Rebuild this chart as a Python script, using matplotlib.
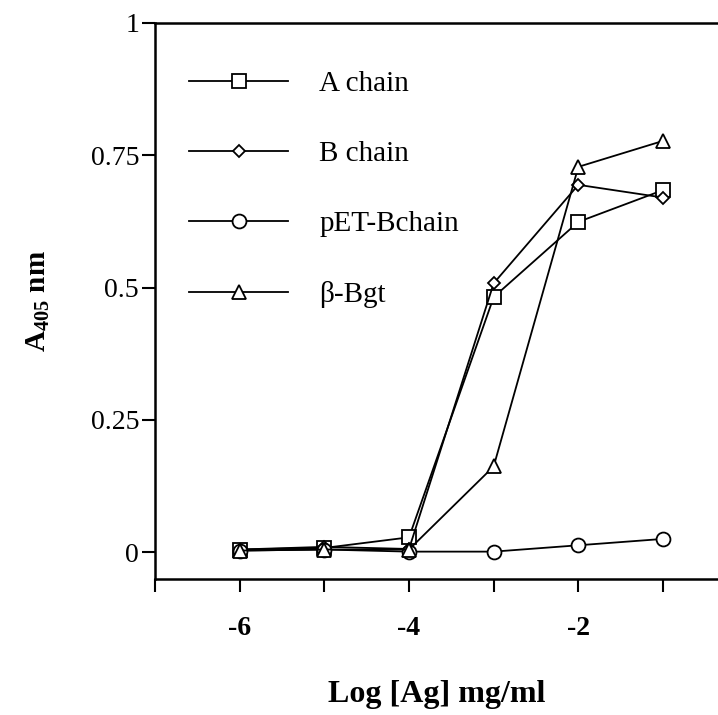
import matplotlib.pyplot as plt

# log concentration of antigen (mg/ml)
log_ag = [-6, -5, -4, -3, -2, -1]

# absorbance at 405 nm for each antigen
a_chain = [0.005, 0.008, 0.028, 0.482, 0.624, 0.684]
b_chain = [0.005, 0.010, 0.006, 0.508, 0.694, 0.670]
pet_bchain = [0.003, 0.005, 0.001, 0.001, 0.013, 0.025]
beta_bgt = [0.003, 0.005, 0.005, 0.162, 0.728, 0.777]

labels = ['A chain', 'B chain', 'pET-Bchain', 'β-Bgt']
markers = ['s', 'D', 'o', '^']
sizes = [10, 6, 10, 10]

plt.rcParams['font.family'] = ['Liberation Serif', 'DejaVu Serif']
plt.rcParams['mathtext.fontset'] = 'custom'
plt.rcParams['mathtext.bf'] = 'Liberation Serif:bold'
plt.rcParams['mathtext.rm'] = 'Liberation Serif'

fig = plt.figure(figsize=(7.18, 7.15), dpi=100)
ax = fig.add_axes([0.216, 0.190, 0.784, 0.778])

for y, lab, m, s in zip([a_chain, b_chain, pet_bchain, beta_bgt], labels, markers, sizes):
    ax.plot(log_ag, y, color='black', lw=1.3, marker=m, markersize=s,
            markerfacecolor='white', markeredgecolor='black', markeredgewidth=1.3,
            label=lab)

ax.set_xlim(-7, -0.35)
ax.set_ylim(-0.051, 1)

ax.set_xticks([-7, -6, -5, -4, -3, -2, -1])
ax.set_xticklabels(['', '-6', '', '-4', '', '-2', ''], fontsize=20, fontweight='bold')
ax.set_yticks([0, 0.25, 0.5, 0.75, 1])
ax.set_yticklabels(['0', '0.25', '0.5', '0.75', '1'], fontsize=20)
ax.tick_params(direction='out', length=9.5, width=1.5)
ax.tick_params(axis='y', pad=2)
ax.tick_params(axis='x', pad=17)

ax.spines['right'].set_visible(False)
for side in ['left', 'top', 'bottom']:
    ax.spines[side].set_linewidth(1.8)

ax.set_xlabel('Log [Ag] mg/ml', fontsize=23, fontweight='bold', labelpad=28)
ax.set_ylabel(r'$\mathbf{A_{405}}$ nm', fontsize=21, fontweight='bold', labelpad=28)

ax.legend(loc='upper left', bbox_to_anchor=(0.04, 0.935), frameon=False,
          fontsize=21, handlelength=3.4, handletextpad=1.05, labelspacing=1.5,
          borderaxespad=0)

fig.savefig('out.png', dpi=100)
